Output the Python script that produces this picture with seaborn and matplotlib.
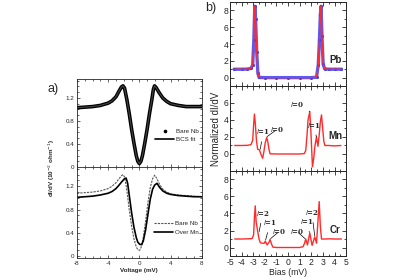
import numpy as np
import pandas as pd
import matplotlib
matplotlib.use("Agg")
import matplotlib.pyplot as plt
from matplotlib.lines import Line2D
from matplotlib.ticker import MultipleLocator
import seaborn as sns

sns.set_theme(style="ticks")
plt.rcParams['font.family'] = ['Liberation Sans', 'DejaVu Sans']

# ---- panel a data (Nb tunnelling spectra) ----
volt_top = [-8, -7, -6, -5, -4, -3.5, -3, -2.6, -2.3, -2.1, -1.9, -1.6, -1.3, -1.0,
            -0.7, -0.4, -0.2, 0, 0.2, 0.4, 0.7, 1.0, 1.3, 1.6, 1.8, 1.95, 2.15,
            2.5, 3, 3.5, 4, 5, 6, 7, 8]
bare_nb_top = [1.03, 1.04, 1.05, 1.07, 1.11, 1.15, 1.22, 1.32, 1.39, 1.41, 1.37, 1.17, 0.93, 0.66,
               0.42, 0.2, 0.1, 0.06, 0.1, 0.2, 0.42, 0.66, 0.93, 1.17, 1.35, 1.41, 1.38,
               1.3, 1.2, 1.14, 1.1, 1.07, 1.05, 1.05, 1.05]
bcs_fit = bare_nb_top

volt_bot = [-8, -7, -6, -5, -4, -3.5, -3, -2.6, -2.3, -2.1, -1.9, -1.7, -1.5, -1.3, -1.0,
            -0.7, -0.4, -0.2, 0, 0.1, 0.3, 0.5, 0.8, 1.1, 1.4, 1.7, 1.96, 2.26,
            2.6, 3, 3.5, 4, 5, 6, 7, 8]
bare_nb_bot = [1.08, 1.09, 1.1, 1.12, 1.16, 1.2, 1.26, 1.33, 1.38, 1.4, 1.36, 1.22, 1.02, 0.8, 0.52,
               0.3, 0.16, 0.11, 0.1, 0.11, 0.18, 0.32, 0.6, 0.92, 1.18, 1.33, 1.39, 1.33,
               1.23, 1.15, 1.1, 1.07, 1.05, 1.04, 1.03, 1.02]
over_mn = [1.01, 1.02, 1.03, 1.05, 1.08, 1.11, 1.16, 1.22, 1.27, 1.3, 1.33, 1.34, 1.25, 1.05, 0.75,
           0.5, 0.32, 0.24, 0.21, 0.2, 0.2, 0.26, 0.45, 0.72, 0.98, 1.15, 1.22, 1.25,
           1.18, 1.12, 1.08, 1.06, 1.04, 1.03, 1.02, 1.02]

# ---- panel b data (normalized dI/dV vs bias) ----
bias_pb = [-4.65, -4.0, -3.5, -3.2, -3.05, -2.95, -2.87, -2.8, -2.7, -2.6, -2.5, -2.0, -1.0,
           0.0, 1.0, 2.0, 2.45, 2.6, 2.7, 2.78, 2.84, 2.92, 3.02, 3.15, 3.5, 4.0, 4.6]
pb = [1.0, 1.0, 1.02, 1.1, 1.5, 4.5, 8.5, 7.0, 3.0, 0.5, 0.02, 0.0, 0.0,
      0.0, 0.0, 0.0, 0.05, 1.5, 4.5, 7.5, 8.5, 5.0, 1.6, 1.05, 1.0, 1.0, 1.0]

bias_mn = [-4.6, -4.0, -3.5, -3.2, -3.05, -2.97, -2.9, -2.82, -2.72, -2.62, -2.47, -2.35, -2.19,
           -2.08, -1.97, -1.84, -1.74, -1.64, -1.55, -1.0, 0.0, 1.0, 1.4, 1.52, 1.62,
           1.72, 1.87, 1.97, 2.1, 2.2, 2.32, 2.45, 2.57, 2.68, 2.78, 2.88, 2.98, 3.08,
           3.17, 3.5, 4.0, 4.55]
mn = [1.0, 1.0, 1.02, 1.1, 1.6, 3.4, 4.7, 3.5, 1.5, 0.55, 0.5, 0.0, -0.5,
      0.3, 1.3, 1.95, 1.4, 0.5, 0.02, 0.0, 0.0, 0.0, 0.05, 0.4, 2.0,
      4.0, 5.0, 2.5, -1.5, -0.6, 1.0, 2.0, 0.9, 2.2, 3.8, 4.6, 3.0, 1.5,
      1.0, 1.0, 0.95, 1.0]

bias_cr = [-4.6, -4.0, -3.5, -3.1, -2.97, -2.9, -2.83, -2.75, -2.62, -2.5, -2.39, -2.19,
           -2.05, -1.96, -1.81, -1.65, -1.55, -1.45, -1.32, -1.0, 0.0, 1.0, 1.29, 1.42,
           1.52, 1.67, 1.87, 2.07, 2.3, 2.45, 2.57, 2.68, 2.78, 2.88, 3.2, 3.6, 4.0, 4.6]
cr = [1.0, 1.0, 1.02, 1.05, 1.5, 3.5, 4.9, 3.0, 1.9, 1.0, 0.55, 0.5,
      0.5, 0.75, 0.3, 0.6, 0.95, 0.5, 0.05, 0.0, 0.0, 0.0, 0.1, 0.5,
      1.0, 0.3, 1.7, 0.25, 1.25, 0.5, 3.0, 5.4, 2.5, 1.0, 1.0, 1.02, 1.0, 1.0]

bias_ticks = [-5, -4, -3, -2, -1, 0, 1, 2, 3, 4, 5]
volt_ticks = [-8, -4, 0, 4, 8]
cond_ticks = [0, 0.4, 0.8, 1.2]

red = '#ff2a2a'
blue = '#4040f0'

fig = plt.figure(figsize=(4.16, 2.77), dpi=100)

# ---------- panel a ----------
ax_at = fig.add_axes([0.185, 0.397, 0.300, 0.318])
ax_ab = fig.add_axes([0.185, 0.069, 0.300, 0.328])

sns.lineplot(x=volt_top, y=bare_nb_top, ax=ax_at, color='black', lw=2.6, sort=False)
sns.lineplot(x=volt_top, y=bcs_fit, ax=ax_at, color='#444444', lw=0.8, sort=False)
ax_at.legend(handles=[Line2D([], [], marker='o', ls='', color='black', ms=1.6),
                      Line2D([], [], color='black', lw=1.2)],
             labels=['Bare Nb', 'BCS fit'], loc='center right', bbox_to_anchor=(1.02, 0.36),
             frameon=False, fontsize=4.5, handlelength=3, handletextpad=0.3, labelspacing=0.5)

sns.lineplot(x=volt_bot, y=bare_nb_bot, ax=ax_ab, color='#555555', lw=0.8, ls=(0, (2, 1)), sort=False)
sns.lineplot(x=volt_bot, y=over_mn, ax=ax_ab, color='black', lw=1.2, sort=False)
ax_ab.legend(handles=[Line2D([], [], color='#555555', lw=0.8, ls=(0, (2, 1))),
                      Line2D([], [], color='black', lw=1.2)],
             labels=['Bare Nb', 'Over Mn'], loc='center right', bbox_to_anchor=(1.02, 0.33),
             frameon=False, fontsize=4.5, handlelength=3, handletextpad=0.3, labelspacing=0.5)

for ax, lo in ((ax_at, 0), (ax_ab, -0.03)):
    ax.set_xlim(-8, 8)
    ax.set_ylim(lo, 1.53)
    ax.set_yticks(cond_ticks)
    ax.set_yticklabels(['0', '0.4', '0.8', '1.2'])
    ax.xaxis.set_minor_locator(MultipleLocator(1))
    ax.yaxis.set_minor_locator(MultipleLocator(0.1))
    ax.tick_params(which='both', direction='in', top=True, right=True, labelsize=4.5,
                   width=0.5, pad=2)
    ax.tick_params(which='major', length=2.5)
    ax.tick_params(which='minor', length=1.3)
    for s in ax.spines.values():
        s.set_linewidth(0.6)
    ax.set_xlabel('')
    ax.set_ylabel('')
ax_at.set_xticks(volt_ticks)
ax_at.tick_params(labelbottom=False)
ax_ab.set_xticks(volt_ticks)
ax_ab.set_xticklabels(['-8', '-4', '0', '4', '8'])
ax_ab.set_xlabel('Voltage (mV)', fontsize=4.5, fontweight='bold', va='center')
ax_ab.xaxis.set_label_coords(0.5, -0.143)
fig.text(0.125, 0.395, r'dI/dV (10$^{-2}$ ohm$^{-1}$)', rotation=90, fontsize=4.5,
         fontweight='bold', ha='center', va='center')
fig.text(0.115, 0.68, 'a)', fontsize=9, ha='left', va='center')

# ---------- panel b ----------
ax_b1 = fig.add_axes([0.553, 0.6895, 0.279, 0.303])
ax_b2 = fig.add_axes([0.553, 0.3827, 0.279, 0.3069])
ax_b3 = fig.add_axes([0.553, 0.0758, 0.279, 0.3069])

sns.lineplot(x=bias_pb, y=pb, ax=ax_b1, color=blue, lw=2.4, alpha=0.85, sort=False)
sns.scatterplot(x=bias_pb, y=pb, ax=ax_b1, color=blue, s=5, linewidth=0)
sns.lineplot(x=bias_pb, y=pb, ax=ax_b1, color=red, lw=0.9, sort=False)
sns.lineplot(x=bias_mn, y=mn, ax=ax_b2, color=red, lw=1.0, sort=False)
sns.lineplot(x=bias_cr, y=cr, ax=ax_b3, color=red, lw=1.0, sort=False)

for ax, lims, name in ((ax_b1, (-1, 9), 'Pb'), (ax_b2, (-2, 8), 'Mn'), (ax_b3, (-1, 9), 'Cr')):
    ax.set_xlim(-5, 5)
    ax.set_ylim(*lims)
    ax.set_xticks(bias_ticks)
    ax.set_yticks([t for t in [0, 2, 4, 6, 8] if t < lims[1]])
    ax.xaxis.set_minor_locator(MultipleLocator(0.5))
    ax.yaxis.set_minor_locator(MultipleLocator(1))
    ax.tick_params(which='both', direction='in', top=True, right=True, labelsize=6.2,
                   width=0.6, pad=1.2)
    ax.tick_params(which='major', length=3)
    ax.tick_params(which='minor', length=1.5)
    for s in ax.spines.values():
        s.set_linewidth(0.7)
    ax.set_xlabel('')
    ax.set_ylabel('')
    ax.text(4.05, 2.1, name, fontsize=7, fontweight='bold', ha='center', va='center')
ax_b1.tick_params(labelbottom=False)
ax_b2.tick_params(labelbottom=False)
ax_b3.set_xticklabels([str(t) for t in bias_ticks])
ax_b3.set_xlabel('Bias (mV)', fontsize=6.2, va='center')
ax_b3.xaxis.set_label_coords(0.5, -0.19)
fig.text(0.52, 0.535, 'Normalized dI/dV', rotation=90, fontsize=7, ha='center', va='center')
fig.text(0.493, 0.97, 'b)', fontsize=9, ha='left', va='center')

ann = dict(fontsize=5, fontweight='bold', family='DejaVu Serif', ha='center', va='center')
arrow = dict(arrowstyle='-', lw=0.5, color='black', shrinkA=1.5, shrinkB=0.5)
# Mn labels
ax_b2.annotate(r'$l$=1', xy=(-2.4, 0.5), xytext=(-2.15, 2.6), arrowprops=arrow, **ann)
ax_b2.annotate(r'$l$=0', xy=(-1.85, 2.0), xytext=(-0.95, 2.9), arrowprops=arrow, **ann)
ax_b2.annotate(r'$l$=0', xy=(1.85, 5.0), xytext=(0.75, 5.8), arrowprops=arrow, **ann)
ax_b2.annotate(r'$l$=1', xy=(2.45, 1.9), xytext=(2.25, 3.4), arrowprops=arrow, **ann)
# Cr labels
ax_b3.annotate(r'$l$=2', xy=(-2.5, 1.8), xytext=(-2.2, 4.0), arrowprops=arrow, **ann)
ax_b3.annotate(r'$l$=1', xy=(-1.95, 0.8), xytext=(-1.55, 2.9), arrowprops=arrow, **ann)
ax_b3.annotate(r'$l$=0', xy=(-1.55, 1.0), xytext=(-0.75, 1.9), arrowprops=arrow, **ann)
ax_b3.annotate(r'$l$=0', xy=(1.5, 1.0), xytext=(0.75, 1.9), arrowprops=arrow, **ann)
ax_b3.annotate(r'$l$=1', xy=(1.85, 1.7), xytext=(1.6, 3.05), arrowprops=arrow, **ann)
ax_b3.annotate(r'$l$=2', xy=(2.3, 1.3), xytext=(2.05, 4.1), arrowprops=arrow, **ann)

fig.savefig('out.png', dpi=100)
